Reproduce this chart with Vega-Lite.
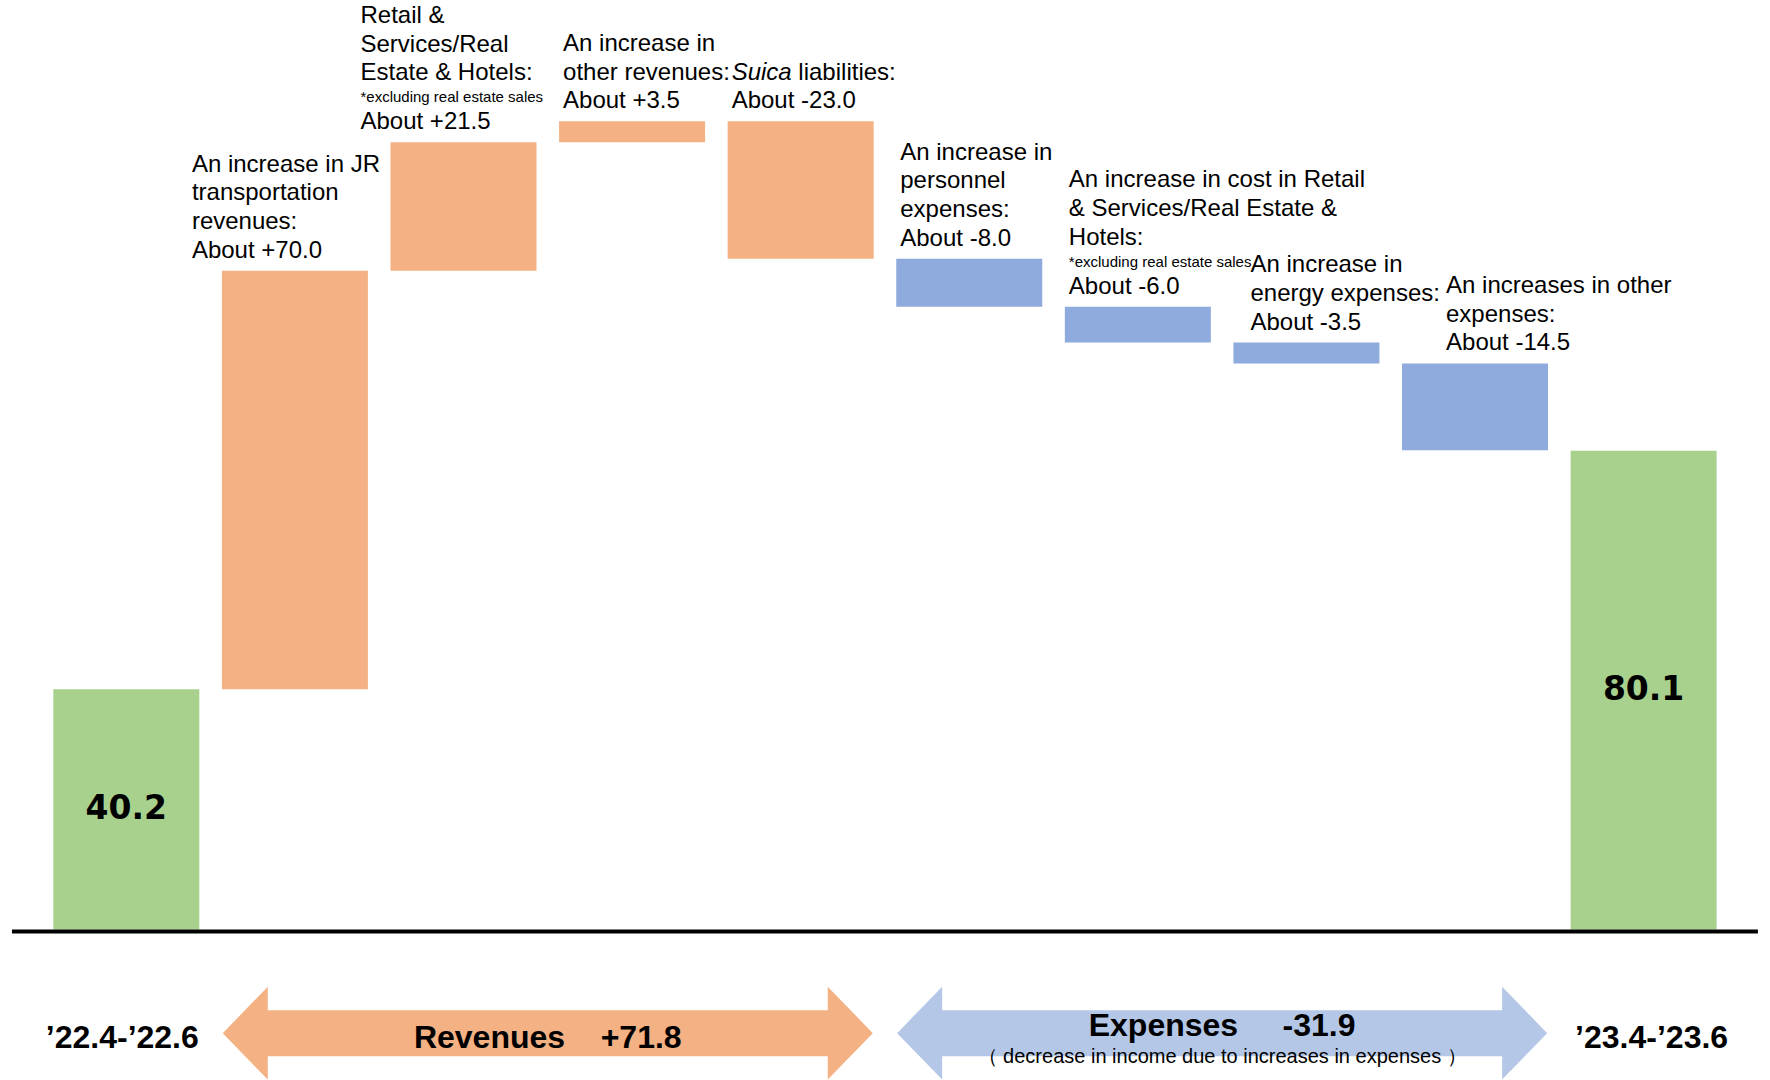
{
  "$schema": "https://vega.github.io/schema/vega-lite/v6.json",
  "width": 1770,
  "height": 1080,
  "autosize": {"type": "fit", "contains": "padding"},
  "padding": 0,
  "background": "white",
  "config": {
    "view": {"stroke": null},
    "text": {"font": "Liberation Sans", "color": "#000000"}
  },
  "datasets": {
    "steps": [
      {"i": 1, "start": 0, "end": 40.2, "kind": "total", "period": "’22.4-’22.6"},
      {"i": 2, "start": 40.2, "end": 110.2, "kind": "revenue", "desc": ["An increase in JR", "transportation", "revenues:"], "value": "About +70.0"},
      {"i": 3, "start": 110.2, "end": 131.7, "kind": "revenue", "desc": ["Retail &", "Services/Real", "Estate & Hotels:"], "note": "*excluding real estate sales", "value": "About +21.5"},
      {"i": 4, "start": 131.7, "end": 135.2, "kind": "revenue", "desc": ["An increase in", "other revenues:"], "value": "About +3.5"},
      {"i": 5, "start": 135.2, "end": 112.2, "kind": "revenue", "lead": "Suica", "desc": ["liabilities:"], "value": "About -23.0"},
      {"i": 6, "start": 112.2, "end": 104.2, "kind": "expense", "desc": ["An increase in", "personnel", "expenses:"], "value": "About -8.0"},
      {"i": 7, "start": 104.2, "end": 98.2, "kind": "expense", "desc": ["An increase in cost in Retail", "& Services/Real Estate &", "Hotels:"], "note": "*excluding real estate sales", "value": "About -6.0"},
      {"i": 8, "start": 98.2, "end": 94.7, "kind": "expense", "desc": ["An increase in", "energy expenses:"], "value": "About -3.5"},
      {"i": 9, "start": 94.7, "end": 80.2, "kind": "expense", "desc": ["An increases in other", "expenses:"], "value": "About -14.5"},
      {"i": 10, "start": 0, "end": 80.1, "kind": "total", "period": "’23.4-’23.6"}
    ],
    "spans": [
      {"name": "Revenues", "from": 2, "to": 5, "kind": "revenue", "title": "Revenues\u00a0\u00a0\u00a0\u00a0+71.8"},
      {"name": "Expenses", "from": 6, "to": 9, "kind": "expense", "title": "Expenses\u00a0\u00a0\u00a0\u00a0\u00a0-31.9", "sub": "（ decrease in income due to increases in expenses ）"}
    ]
  },
  "layer": [
    {
      "data": {"name": "steps"},
      "mark": {"type": "bar", "width": 146},
      "encoding": {
        "x": {"field": "i", "type": "quantitative", "scale": {"domain": [0.2805, 10.72], "nice": false, "zero": false}, "axis": null},
        "y": {"field": "start", "type": "quantitative", "scale": {"domain": [-24.5, 155.5], "nice": false, "zero": false}, "axis": null},
        "y2": {"field": "end"},
        "color": {
          "field": "kind",
          "type": "nominal",
          "scale": {"domain": ["total", "revenue", "expense"], "range": ["#A9D18E", "#F4B183", "#8FAADC"]},
          "legend": null
        }
      }
    },
    {
      "data": {"values": [{}]},
      "mark": {"type": "rule", "color": "#000000", "strokeWidth": 4, "yOffset": 2},
      "encoding": {
        "x": {"datum": 0.3217, "type": "quantitative", "scale": {"domain": [0.2805, 10.72], "nice": false, "zero": false}, "axis": null},
        "x2": {"datum": 10.678},
        "y": {"datum": 0, "type": "quantitative", "scale": {"domain": [-24.5, 155.5], "nice": false, "zero": false}, "axis": null}
      }
    },
    {
      "data": {"name": "steps"},
      "transform": [
        {"filter": "datum.kind == 'total'"},
        {"calculate": "datum.end / 2", "as": "mid"}
      ],
      "mark": {"type": "text", "font": "DejaVu Sans", "fontWeight": "bold", "fontSize": 33, "align": "center", "baseline": "middle"},
      "encoding": {
        "x": {"field": "i", "type": "quantitative", "scale": {"domain": [0.2805, 10.72], "nice": false, "zero": false}, "axis": null},
        "y": {"field": "mid", "type": "quantitative", "scale": {"domain": [-24.5, 155.5], "nice": false, "zero": false}, "axis": null},
        "text": {"field": "end", "type": "quantitative", "format": ".1f"}
      }
    },
    {
      "data": {"name": "steps"},
      "transform": [
        {"filter": "isValid(datum.value)"},
        {"calculate": "max(datum.start, datum.end)", "as": "top"}
      ],
      "mark": {
        "type": "text", "fontSize": 24, "align": "left", "baseline": "bottom", "dy": -8,
        "dx": {"expr": "datum.i <= 3 ? -103 : datum.i == 8 ? -56 : datum.i >= 9 ? -29 : -69"}
      },
      "encoding": {
        "x": {"field": "i", "type": "quantitative", "scale": {"domain": [0.2805, 10.72], "nice": false, "zero": false}, "axis": null},
        "y": {"field": "top", "type": "quantitative", "scale": {"domain": [-24.5, 155.5], "nice": false, "zero": false}, "axis": null},
        "text": {"field": "value"}
      }
    },
    {
      "data": {"name": "steps"},
      "transform": [
        {"filter": "isValid(datum.desc)"},
        {"calculate": "max(datum.start, datum.end)", "as": "top"}
      ],
      "mark": {
        "type": "text", "fontSize": 24, "lineHeight": 28.7, "align": "left", "baseline": "bottom",
        "dy": {"expr": "(isValid(datum.note) ? -57 : -36.7) - (length(datum.desc) - 1) * 28.7"},
        "dx": {"expr": "datum.i == 5 ? -2.3 : datum.i <= 3 ? -103 : datum.i == 8 ? -56 : datum.i >= 9 ? -29 : -69"}
      },
      "encoding": {
        "x": {"field": "i", "type": "quantitative", "scale": {"domain": [0.2805, 10.72], "nice": false, "zero": false}, "axis": null},
        "y": {"field": "top", "type": "quantitative", "scale": {"domain": [-24.5, 155.5], "nice": false, "zero": false}, "axis": null},
        "text": {"field": "desc"}
      }
    },
    {
      "data": {"name": "steps"},
      "transform": [
        {"filter": "isValid(datum.note)"},
        {"calculate": "max(datum.start, datum.end)", "as": "top"}
      ],
      "mark": {
        "type": "text", "fontSize": 15, "align": "left", "baseline": "bottom", "dy": -37,
        "dx": {"expr": "datum.i <= 3 ? -103 : -69"}
      },
      "encoding": {
        "x": {"field": "i", "type": "quantitative", "scale": {"domain": [0.2805, 10.72], "nice": false, "zero": false}, "axis": null},
        "y": {"field": "top", "type": "quantitative", "scale": {"domain": [-24.5, 155.5], "nice": false, "zero": false}, "axis": null},
        "text": {"field": "note"}
      }
    },
    {
      "data": {"name": "steps"},
      "transform": [
        {"filter": "isValid(datum.lead)"},
        {"calculate": "max(datum.start, datum.end)", "as": "top"}
      ],
      "mark": {"type": "text", "fontSize": 24, "fontStyle": "italic", "align": "left", "baseline": "bottom", "dy": -36.7, "dx": -69},
      "encoding": {
        "x": {"field": "i", "type": "quantitative", "scale": {"domain": [0.2805, 10.72], "nice": false, "zero": false}, "axis": null},
        "y": {"field": "top", "type": "quantitative", "scale": {"domain": [-24.5, 155.5], "nice": false, "zero": false}, "axis": null},
        "text": {"field": "lead"}
      }
    },
    {
      "data": {"name": "steps"},
      "transform": [{"filter": "isValid(datum.period)"}],
      "mark": {
        "type": "text", "fontSize": 32, "fontWeight": "bold", "align": "center", "baseline": "middle", "dy": 5,
        "dx": {"expr": "datum.i == 1 ? -4 : 8"}
      },
      "encoding": {
        "x": {"field": "i", "type": "quantitative", "scale": {"domain": [0.2805, 10.72], "nice": false, "zero": false}, "axis": null},
        "y": {"datum": -17.33, "type": "quantitative", "scale": {"domain": [-24.5, 155.5], "nice": false, "zero": false}, "axis": null},
        "text": {"field": "period"}
      }
    },
    {
      "data": {"name": "spans"},
      "transform": [{"calculate": "(datum.from + datum.to) / 2", "as": "mid"}],
      "mark": {
        "type": "point",
        "filled": true,
        "opacity": 1,
        "strokeWidth": 0,
        "size": 422500,
        "shape": "M-1,0L-0.8615,-0.143L-0.8615,-0.0708L0.8615,-0.0708L0.8615,-0.143L1,0L0.8615,0.143L0.8615,0.0708L-0.8615,0.0708L-0.8615,0.143Z"
      },
      "encoding": {
        "x": {"field": "mid", "type": "quantitative", "scale": {"domain": [0.2805, 10.72], "nice": false, "zero": false}, "axis": null},
        "y": {"datum": -17.33, "type": "quantitative", "scale": {"domain": [-24.5, 155.5], "nice": false, "zero": false}, "axis": null},
        "fill": {
          "field": "kind",
          "type": "nominal",
          "scale": {"domain": ["revenue", "expense"], "range": ["#F4B183", "#B4C7E7"]},
          "legend": null
        }
      }
    },
    {
      "data": {"name": "spans"},
      "transform": [{"calculate": "(datum.from + datum.to) / 2", "as": "mid"}],
      "mark": {
        "type": "text", "fontSize": 32, "fontWeight": "bold", "align": "center", "baseline": "middle",
        "dy": {"expr": "isValid(datum.sub) ? -7.5 : 5"}
      },
      "encoding": {
        "x": {"field": "mid", "type": "quantitative", "scale": {"domain": [0.2805, 10.72], "nice": false, "zero": false}, "axis": null},
        "y": {"datum": -17.33, "type": "quantitative", "scale": {"domain": [-24.5, 155.5], "nice": false, "zero": false}, "axis": null},
        "text": {"field": "title"}
      }
    },
    {
      "data": {"name": "spans"},
      "transform": [
        {"filter": "isValid(datum.sub)"},
        {"calculate": "(datum.from + datum.to) / 2", "as": "mid"}
      ],
      "mark": {"type": "text", "fontSize": 20, "align": "center", "baseline": "middle", "dy": 24},
      "encoding": {
        "x": {"field": "mid", "type": "quantitative", "scale": {"domain": [0.2805, 10.72], "nice": false, "zero": false}, "axis": null},
        "y": {"datum": -17.33, "type": "quantitative", "scale": {"domain": [-24.5, 155.5], "nice": false, "zero": false}, "axis": null},
        "text": {"field": "sub"}
      }
    }
  ]
}
